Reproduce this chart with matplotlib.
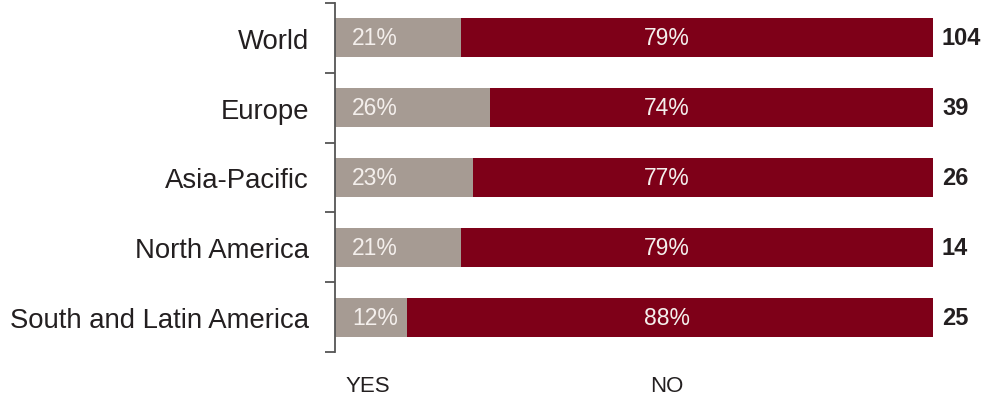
import matplotlib.pyplot as plt
from matplotlib.transforms import blended_transform_factory

plt.rcParams["font.family"] = ["Liberation Sans", "DejaVu Sans"]

regions = ["World", "Europe", "Asia-Pacific", "North America", "South and Latin America"]
yes_pct = [21, 26, 23, 21, 12]
no_pct = [79, 74, 77, 79, 88]
totals = [104, 39, 26, 14, 25]

grey = "#A69B93"
red = "#7E0018"
text_col = "#231F20"

fig = plt.figure(figsize=(9.84, 4.06), dpi=100)
ax = fig.add_axes([335 / 984, 1 - 353 / 406, 598 / 984, 349 / 406])

y = list(range(len(regions)))

ax.barh(y, yes_pct, height=0.56, color=grey)
ax.barh(y, no_pct, left=yes_pct, height=0.56, color=red)

for i in y:
    ax.text(6.7, i, f"{yes_pct[i]}%", color="#F4EFEC",
            fontsize=16.5, ha="center", va="center")
    ax.text(55.5, i, f"{no_pct[i]}%", color="#F4EFEC",
            fontsize=16.5, ha="center", va="center")
    ax.text(101.5, i, str(totals[i]), color=text_col,
            fontsize=17, fontweight="bold", ha="left", va="center")

ax.set_xlim(0, 100)
ax.set_ylim(len(regions) - 0.5, -0.5)

# boundary ticks on the spine, labels at bar centres
ax.set_yticks([i - 0.5 for i in range(len(regions) + 1)])
ax.set_yticklabels([])
ax.set_yticks(y, minor=True)
ax.set_yticklabels(regions, minor=True, fontsize=19.8, color=text_col)
ax.tick_params(axis="y", which="major", length=7.2, width=1.3, color="#555555")
ax.tick_params(axis="y", which="minor", length=0, pad=18.7)

ax.set_xticks([])
for side in ["top", "right", "bottom"]:
    ax.spines[side].set_visible(False)
ax.spines["left"].set_color("#555555")
ax.spines["left"].set_linewidth(1.3)

trans = blended_transform_factory(ax.transData, fig.transFigure)
ax.text(5.5, 1 - 386.5 / 406, "YES", transform=trans, fontsize=16,
        color=text_col, ha="center", va="center")
ax.text(55.5, 1 - 386.5 / 406, "NO", transform=trans, fontsize=16,
        color=text_col, ha="center", va="center")

fig.savefig("out.png", dpi=100)
